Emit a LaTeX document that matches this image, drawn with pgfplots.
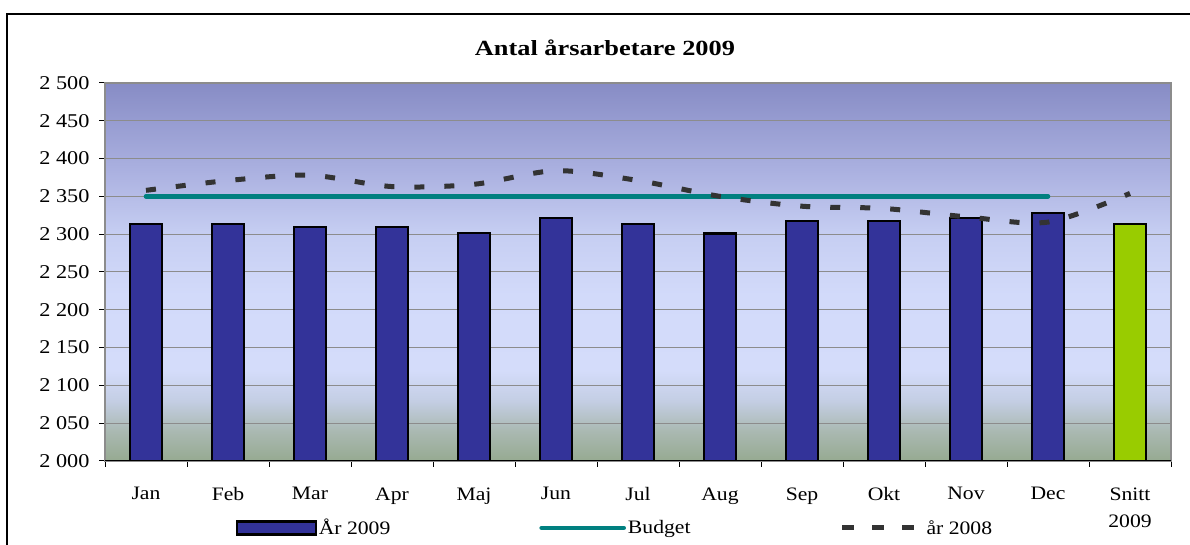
\documentclass[border=0pt]{standalone}
\usepackage{pgfplots}
\pgfplotsset{compat=1.18}
\usepackage{pgfplotstable}
\usepackage{fontspec}
\setmainfont{Liberation Serif}[FakeStretch=1.14]
\newfontfamily\titlefont{Liberation Serif}[FakeStretch=1.22]

\definecolor{barblue}{RGB}{51,51,153}
\definecolor{snittgreen}{RGB}{153,204,0}
\definecolor{budgetteal}{RGB}{0,128,128}
\definecolor{line08}{RGB}{51,51,51}
\definecolor{gridgray}{RGB}{140,140,140}
\definecolor{bgA}{RGB}{150,170,145}
\definecolor{bgB}{RGB}{170,185,178}
\definecolor{bgC}{RGB}{196,206,228}
\definecolor{bgD}{RGB}{212,220,250}
\definecolor{bgE}{RGB}{210,218,250}
\definecolor{bgF}{RGB}{198,206,242}
\definecolor{bgG}{RGB}{172,178,225}
\definecolor{bgH}{RGB}{135,140,197}
\pgfdeclareverticalshading{plotbg}{100bp}{color(0bp)=(bgA); color(25bp)=(bgA); color(29bp)=(bgB); color(33bp)=(bgC); color(37bp)=(bgD); color(47bp)=(bgE); color(55bp)=(bgF); color(63bp)=(bgG); color(75bp)=(bgH); color(100bp)=(bgH)}

\pgfplotstableread{
x y
0 2313
1 2313
2 2309
3 2310
4 2302
5 2321
6 2313
7 2301
8 2317
9 2317
10 2321
11 2328
}\monthdata

\pgfplotstableread{
x y
0 2358
1 2371
2 2378
3 2363
4 2366
5 2384
6 2371
7 2350
8 2337
9 2334
10 2323
11 2316
12 2354
}\lastyear

\begin{document}
\begin{tikzpicture}
\path[use as bounding box] (0pt,0pt) rectangle (1190pt,545pt);
\draw[line width=1.5pt] (7pt,-2pt) -- (7pt,531pt) -- (1192pt,531pt);
\begin{axis}[
  at={(105pt,84pt)}, anchor=south west,
  scale only axis, width=1066pt, height=378pt,
  xmin=-0.5, xmax=12.5, ymin=2000, ymax=2500,
  axis background/.style={shading=plotbg},
  axis line style={draw=gridgray, line width=1.6pt},
  xtick={0,...,12},
  xticklabels={Jan,Feb,Mar,Apr,Maj,Jun,Jul,Aug,Sep,Okt,Nov,Dec,{Snitt\\2009}},
  major x tick style={draw=none},
  minor xtick={-0.5,0.5,...,12.5},
  minor x tick style={black, line width=1pt},
  minor tick length=6pt,
  ytick={2000,2050,...,2500},
  major y tick style={black, line width=1pt},
  major tick length=6pt,
  tick align=outside,
  tick pos=left,
  ymajorgrids,
  major grid style={draw=gridgray, line width=1pt},
  /pgf/number format/1000 sep={\ },
  /pgf/number format/assume math mode=true,
  yticklabel style={font=\fontsize{19.5}{22}\selectfont, xshift=-6pt},
  xticklabel style={font=\fontsize{19}{27}\selectfont, align=center, yshift=-17pt},
  title={Antal årsarbetare 2009},
  title style={font=\titlefont\bfseries\fontsize{21.6}{26}\selectfont, at={(0.469,1.058)}, anchor=base},
  legend columns=3,
  legend style={at={(0.1195,-0.177)}, anchor=west, draw=none, fill=none,
    font=\fontsize{19}{22}\selectfont,
    /tikz/every even column/.append style={column sep=147pt}},
]
\addplot[ybar, bar width=32.5pt, bar shift=0pt, fill=barblue, draw=black, line width=2.2pt,
  legend image code/.code={\draw[fill=barblue, draw=black, line width=2.2pt] (0pt,-6.5pt) rectangle (79pt,6.5pt);}]
  table[x=x,y=y] {\monthdata};
\addlegendentry{År 2009}
\addplot[ybar, bar width=32.5pt, bar shift=0pt, fill=snittgreen, draw=black, line width=2.2pt, forget plot]
  coordinates {(12,2314)};
\addplot[budgetteal, line width=4.6pt, line cap=round,
  legend image code/.code={\draw[budgetteal, line width=4.6pt, line cap=round] (0pt,0pt) -- (82pt,0pt);}]
  coordinates {(0,2350) (11,2350)};
\addlegendentry{Budget}
\addplot[line08, line width=5pt, smooth, dash pattern=on 10pt off 20pt,
  legend image code/.code={\draw[line08, line width=5pt, dash pattern=on 12pt off 18pt] (0pt,0pt) -- (72pt,0pt);}]
  table[x=x,y=y] {\lastyear};
\addlegendentry{\hspace*{8pt}år 2008}
\draw[black, line width=1.6pt] (rel axis cs:0,0) -- (rel axis cs:1,0);
\end{axis}
\end{tikzpicture}
\end{document}
